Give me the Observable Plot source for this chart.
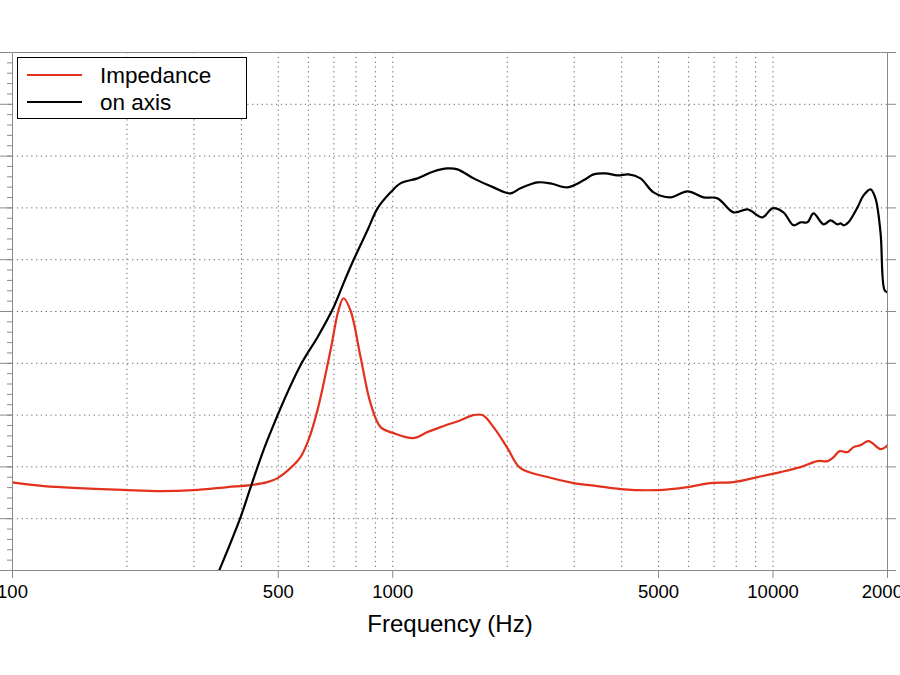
<!DOCTYPE html>
<html>
<head>
<meta charset="utf-8">
<script src="https://cdn.jsdelivr.net/npm/d3@7"></script>
<script src="https://cdn.jsdelivr.net/npm/@observablehq/plot@0.6"></script>
<style>
  html, body { margin: 0; padding: 0; background: #fff; }
  #chart { width: 900px; height: 675px; position: relative; }
</style>
</head>
<body>
<div id="chart"></div>
<script>
// Series names and colours
const seriesNames = ["Impedance", "on axis"];
const seriesColors = ["#e2311d", "#000000"];

// Impedance curve (red)
const impFreq = [100, 121, 201, 245, 299, 368, 423, 468, 498, 538, 572, 600, 634, 686, 720, 742, 774, 823, 874, 929, 1004, 1134, 1234, 1336, 1507, 1631, 1722, 1841, 2003, 2167, 2553, 2988, 3455, 3971, 4969, 5959, 6848, 7872, 9103, 10460, 11810, 13090, 13910, 14430, 14960, 15700, 16280, 16990, 17830, 19180, 19760, 20000];
const impVal = [58.5, 58.15, 57.76, 57.67, 57.76, 58.05, 58.24, 58.53, 58.92, 59.88, 60.94, 62.58, 65.48, 71.26, 75.12, 76.28, 75.12, 70.59, 66.15, 63.84, 63.26, 62.78, 63.36, 63.84, 64.51, 65.0, 65.0, 63.84, 61.81, 59.88, 59.02, 58.44, 58.15, 57.86, 57.76, 58.05, 58.44, 58.53, 59.02, 59.5, 59.98, 60.56, 60.56, 60.94, 61.52, 61.43, 61.91, 62.1, 62.49, 61.72, 61.91, 62.1];

// On-axis response (black)
const axisFreq = [350, 398, 423, 468, 572, 634, 699, 742, 788, 858, 912, 987, 1048, 1162, 1280, 1393, 1480, 1631, 1841, 2040, 2167, 2402, 2598, 2881, 3174, 3372, 3627, 3900, 4169, 4482, 4850, 5376, 5959, 6564, 7145, 7872, 8569, 9383, 9968, 10650, 11320, 11810, 12320, 12780, 13580, 14170, 14780, 15050, 15330, 15790, 16680, 17300, 18050, 18600, 19180, 19650, 20000];
const axisVal = [50.05, 55.16, 58.05, 62.58, 69.82, 72.52, 75.41, 77.72, 79.94, 82.84, 84.96, 86.5, 87.37, 87.85, 88.52, 88.81, 88.72, 87.85, 86.98, 86.4, 86.89, 87.46, 87.37, 86.98, 87.66, 88.24, 88.33, 88.14, 88.24, 87.85, 86.5, 86.02, 86.6, 86.02, 85.92, 84.57, 84.86, 84.09, 84.96, 84.57, 83.32, 83.61, 83.61, 84.47, 83.41, 83.8, 83.41, 83.51, 83.32, 83.61, 85.05, 86.21, 86.79, 85.92, 82.55, 77.05, 76.86];

// Axis ticks
const xTickValues = [100, 500, 1000, 5000, 10000, 20000];
const xGridValues = [200, 300, 400, 500, 600, 700, 800, 900, 1000, 2000, 3000, 4000, 5000, 6000, 7000, 8000, 9000, 10000];
const yMajor = [50, 55, 60, 65, 70, 75, 80, 85, 90, 95, 100];
const yMinor = d3.range(50, 101, 1);
const xLabel = "Frequency (Hz)";

const impData = impFreq.map((f, i) => ({f, v: impVal[i]}));
const axisData = axisFreq.map((f, i) => ({f, v: axisVal[i]}));

const gridColor = "#6e6e6e";
const axisColor = "#8a8a8a";
const fontFamily = "'Liberation Sans', Arial, Helvetica, sans-serif";

const svg = Plot.plot({
  width: 900,
  height: 675,
  marginTop: 52,
  marginBottom: 105,
  marginLeft: 12,
  marginRight: 13,
  style: {fontFamily, background: "#fff", color: "#000"},
  x: {type: "log", domain: [100, 20000]},
  y: {domain: [50, 100]},
  marks: [
    Plot.gridX(xGridValues, {stroke: gridColor, strokeOpacity: 1, strokeDasharray: "1.3,3.5", strokeWidth: 1}),
    Plot.gridY(yMajor, {stroke: gridColor, strokeOpacity: 1, strokeDasharray: "1.3,3.5", strokeWidth: 1}),
    Plot.line(impData, {x: "f", y: "v", stroke: seriesColors[0], strokeWidth: 2.2, curve: "catmull-rom", clip: true}),
    Plot.line(axisData, {x: "f", y: "v", stroke: seriesColors[1], strokeWidth: 2.2, curve: "catmull-rom", clip: true}),
    Plot.frame({stroke: axisColor, strokeWidth: 1}),
    Plot.axisY(yMinor, {anchor: "left", tickSize: 5, tickFormat: () => "", stroke: axisColor, label: null}),
    Plot.axisY(yMajor, {anchor: "left", tickSize: 12, tickFormat: () => "", stroke: axisColor, label: null}),
    Plot.axisY(yMajor, {anchor: "right", tickSize: 8, tickFormat: () => "", stroke: axisColor, label: null}),
    Plot.axisX(xTickValues, {anchor: "bottom", tickSize: 8, tickPadding: 6, fontSize: 18.5, tickFormat: d => String(d), stroke: axisColor, fill: "#000", label: null}),
    Plot.text([xLabel], {frameAnchor: "bottom", dy: 61, fontSize: 24, fill: "#000"})
  ]
});

// Legend box in the upper-left corner of the frame
const lg = d3.select(svg).append("g")
  .attr("font-family", fontFamily)
  .attr("text-anchor", "start");
lg.append("rect").attr("x", 17.5).attr("y", 57.5).attr("width", 229).attr("height", 61)
  .attr("fill", "#fff").attr("stroke", "#000").attr("stroke-width", 1);
seriesNames.forEach((name, i) => {
  const yy = 75 + i * 27;
  lg.append("line").attr("x1", 27).attr("x2", 82).attr("y1", yy).attr("y2", yy)
    .attr("stroke", seriesColors[i]).attr("stroke-width", 2);
  lg.append("text").attr("x", 100).attr("y", yy).attr("dy", "0.36em")
    .attr("text-anchor", "start")
    .attr("font-size", 22.5).attr("fill", "#000").text(name);
});

document.getElementById("chart").appendChild(svg);
</script>
</body>
</html>
